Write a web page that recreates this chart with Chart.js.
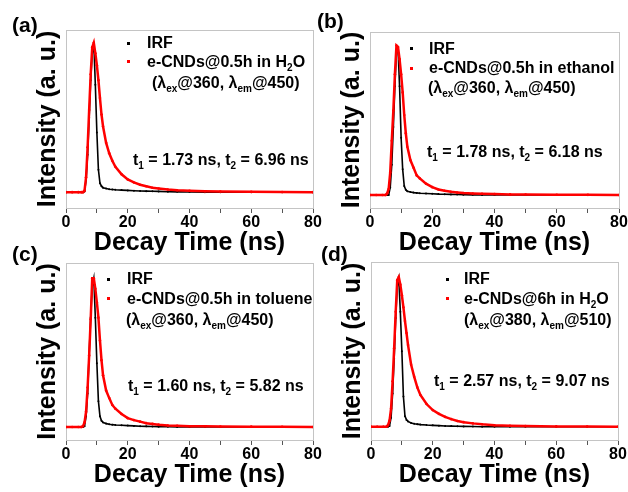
<!DOCTYPE html>
<html>
<head>
<meta charset="utf-8">
<script src="https://cdn.jsdelivr.net/npm/chart.js@4.4.0/dist/chart.umd.min.js"></script>
<style>
  html, body { margin:0; padding:0; background:#fff; }
  #wrap { position:relative; width:628px; height:492px; overflow:hidden; font-family:"Liberation Sans", Arial, sans-serif; font-weight:bold; color:#000; }
  canvas { position:absolute; left:0; top:0; }
  .t { position:absolute; font-size:16px; line-height:18px; white-space:nowrap; }
  .lab { position:absolute; font-size:21px; line-height:24px; white-space:nowrap; }
  .s { font-size:10px; position:relative; top:4px; line-height:0; }
  .dot { position:absolute; width:3px; height:3px; }
</style>
</head>
<body>
<div id="wrap">
  <canvas id="cA" width="628" height="492"></canvas>
  <canvas id="cB" width="628" height="492"></canvas>
  <canvas id="cC" width="628" height="492"></canvas>
  <canvas id="cD" width="628" height="492"></canvas>

  <div class="lab" style="left:12px;top:13px">(a)</div>
  <div class="lab" style="left:317px;top:9px">(b)</div>
  <div class="lab" style="left:12px;top:242px">(c)</div>
  <div class="lab" style="left:321px;top:242px">(d)</div>

  <!-- panel a legend -->
  <div class="dot" style="left:127px;top:42px;background:#000"></div>
  <div class="dot" style="left:127px;top:60px;background:#f00"></div>
  <div class="t" style="left:147px;top:34px">IRF</div>
  <div class="t" style="left:147px;top:53px">e-CNDs@0.5h in H<span class="s">2</span>O</div>
  <div class="t" style="left:152px;top:74px">(λ<span class="s">ex</span>@360, λ<span class="s">em</span>@450)</div>
  <div class="t" style="left:133px;top:151px">t<span class="s">1</span> = 1.73 ns, t<span class="s">2</span> = 6.96 ns</div>

  <!-- panel b legend -->
  <div class="dot" style="left:410px;top:47px;background:#000"></div>
  <div class="dot" style="left:410px;top:67px;background:#f00"></div>
  <div class="t" style="left:429px;top:40px">IRF</div>
  <div class="t" style="left:429px;top:59px">e-CNDs@0.5h in ethanol</div>
  <div class="t" style="left:428px;top:79px">(λ<span class="s">ex</span>@360, λ<span class="s">em</span>@450)</div>
  <div class="t" style="left:427px;top:143px">t<span class="s">1</span> = 1.78 ns, t<span class="s">2</span> = 6.18 ns</div>

  <!-- panel c legend -->
  <div class="dot" style="left:107px;top:278px;background:#000"></div>
  <div class="dot" style="left:107px;top:297px;background:#f00"></div>
  <div class="t" style="left:127px;top:270px">IRF</div>
  <div class="t" style="left:127px;top:290px">e-CNDs@0.5h in toluene</div>
  <div class="t" style="left:126px;top:311px">(λ<span class="s">ex</span>@360, λ<span class="s">em</span>@450)</div>
  <div class="t" style="left:128px;top:377px">t<span class="s">1</span> = 1.60 ns, t<span class="s">2</span> = 5.82 ns</div>

  <!-- panel d legend -->
  <div class="dot" style="left:446px;top:278px;background:#000"></div>
  <div class="dot" style="left:446px;top:297px;background:#f00"></div>
  <div class="t" style="left:464px;top:270px">IRF</div>
  <div class="t" style="left:464px;top:290px">e-CNDs@6h in H<span class="s">2</span>O</div>
  <div class="t" style="left:464px;top:311px">(λ<span class="s">ex</span>@380, λ<span class="s">em</span>@510)</div>
  <div class="t" style="left:434px;top:372px">t<span class="s">1</span> = 2.57 ns, t<span class="s">2</span> = 9.07 ns</div>
</div>
<script>
// ---- data (time in ns, normalized intensity) ----
const timeNs = [0, 2, 4, 5, 5.5, 6, 6.5, 7, 7.5, 8, 8.5, 9, 9.5, 10, 10.5, 11, 11.5, 12, 13, 14, 15, 16, 18, 20, 22, 24, 26, 28, 30, 33, 36, 40, 45, 50, 60, 70, 80];

const irfA   = [0, 0, 0, 0, 0, 0.005, 0.08, 0.25, 0.5, 0.75, 0.93, 1.0, 0.72, 0.4, 0.15, 0.06, 0.04, 0.03, 0.024, 0.02, 0.018, 0.016, 0.014, 0.012, 0.01, 0.008, 0.007, 0.006, 0.005, 0.003, 0.002, 0.001, 0, 0, 0, 0, 0];
const decayA = [0, 0, 0, 0, 0, 0.01, 0.1, 0.3, 0.55, 0.79, 0.97, 1.0, 0.93, 0.85, 0.75, 0.63, 0.52, 0.44, 0.33, 0.26, 0.21, 0.17, 0.12, 0.085, 0.065, 0.05, 0.04, 0.03, 0.025, 0.018, 0.013, 0.009, 0.006, 0.004, 0.002, 0.001, 0];

const irfB   = [0, 0, 0, 0, 0, 0, 0.05, 0.2, 0.45, 0.72, 0.95, 0.97, 0.72, 0.38, 0.17, 0.06, 0.035, 0.025, 0.02, 0.016, 0.014, 0.012, 0.01, 0.008, 0.006, 0.005, 0.004, 0.003, 0.002, 0.001, 0, 0, 0, 0, 0, 0, 0];
const decayB = [0, 0, 0, 0, 0.01, 0.04, 0.15, 0.36, 0.56, 0.8, 0.99, 0.98, 0.9, 0.8, 0.68, 0.53, 0.41, 0.32, 0.23, 0.18, 0.13, 0.11, 0.075, 0.052, 0.037, 0.028, 0.021, 0.017, 0.013, 0.01, 0.008, 0.006, 0.004, 0.003, 0.002, 0.001, 0];

const irfC   = [0, 0, 0, 0, 0, 0.005, 0.07, 0.22, 0.48, 0.72, 0.93, 0.98, 0.72, 0.42, 0.17, 0.07, 0.04, 0.03, 0.022, 0.018, 0.015, 0.013, 0.011, 0.009, 0.007, 0.005, 0.004, 0.003, 0.002, 0.001, 0, 0, 0, 0, 0, 0, 0];
const decayC = [0, 0, 0, 0, 0.005, 0.03, 0.1, 0.26, 0.47, 0.71, 0.98, 0.98, 0.91, 0.82, 0.72, 0.57, 0.44, 0.34, 0.24, 0.19, 0.145, 0.12, 0.085, 0.058, 0.045, 0.035, 0.025, 0.02, 0.015, 0.01, 0.008, 0.005, 0.004, 0.003, 0.002, 0.001, 0];

const irfD   = [0, 0, 0, 0, 0, 0.005, 0.06, 0.22, 0.45, 0.72, 0.93, 0.98, 0.76, 0.5, 0.2, 0.07, 0.045, 0.035, 0.025, 0.02, 0.017, 0.014, 0.011, 0.009, 0.007, 0.005, 0.004, 0.003, 0.002, 0.001, 0, 0, 0, 0, 0, 0, 0];
const decayD = [0, 0, 0, 0, 0.01, 0.04, 0.12, 0.3, 0.52, 0.76, 0.97, 0.99, 0.94, 0.87, 0.79, 0.7, 0.62, 0.54, 0.41, 0.33, 0.26, 0.21, 0.15, 0.11, 0.085, 0.065, 0.05, 0.038, 0.03, 0.022, 0.016, 0.01, 0.006, 0.004, 0.002, 0.001, 0];

const xTickLabels = [0, 20, 40, 60, 80];
const seriesNames = ['e-CNDs', 'IRF'];

// ---- drawing ----
const FONT = '"Liberation Sans", Arial, sans-serif';
const framePlugin = {
  id: 'frame',
  beforeDatasetsDraw(chart) {
    const a = chart.chartArea, ctx = chart.ctx;
    ctx.save();
    ctx.strokeStyle = '#c4c4c4';
    ctx.lineWidth = 1;
    ctx.strokeRect(a.left + 0.5, a.top + 0.5, a.right - a.left, a.bottom - a.top);
    ctx.restore();
  }
};

function pts(t, v) { return t.map((x, i) => ({ x: x, y: v[i] })); }

function makePanel(id, irf, decay, area, yMin, yMax) {
  const Y_W = 46, X_H = 50;
  new Chart(document.getElementById(id), {
    type: 'scatter',
    data: {
      datasets: [
        { label: seriesNames[0], data: pts(timeNs, decay), showLine: true, borderColor: '#ff0000', backgroundColor: '#ff0000', borderWidth: 2.5, pointRadius: 1.3, pointBorderWidth: 0, tension: 0 },
        { label: seriesNames[1], data: pts(timeNs, irf), showLine: true, borderColor: '#000000', backgroundColor: '#000000', borderWidth: 1.6, pointRadius: 1, pointBorderWidth: 0, tension: 0 }
      ]
    },
    options: {
      responsive: false,
      animation: false,
      devicePixelRatio: 1,
      layout: { padding: { left: area.left - Y_W, top: area.top, right: 628 - area.right, bottom: 492 - area.bottom - X_H } },
      plugins: { legend: { display: false }, tooltip: { enabled: false } },
      scales: {
        x: {
          type: 'linear', min: 0, max: 80,
          afterFit: s => { s.height = X_H; },
          border: { display: true, color: '#555', width: 1 },
          grid: { display: true, drawOnChartArea: false, drawTicks: true, tickLength: 5, color: '#555' },
          ticks: {
            stepSize: 10, autoSkip: false, maxRotation: 0, padding: 0,
            color: '#000', font: { family: FONT, size: 16, weight: 'bold' },
            callback: v => xTickLabels.includes(v) ? String(v) : ''
          },
          title: { display: true, text: 'Decay Time (ns)', color: '#000', padding: { top: 0, bottom: 0 }, font: { family: FONT, size: 25, weight: 'bold', lineHeight: 1.2 } }
        },
        y: {
          type: 'linear', min: yMin, max: yMax,
          afterFit: s => { s.width = Y_W; },
          border: { display: true, color: '#777', width: 1 },
          grid: { display: false },
          ticks: { display: false },
          title: { display: true, text: 'Intensity (a. u.)', color: '#000', padding: { top: 13, bottom: 0 }, font: { family: FONT, size: 25, weight: 'bold', lineHeight: 1.2 } }
        }
      }
    },
    plugins: [framePlugin]
  });
}

makePanel('cA', irfA, decayA, { left: 66, top: 30, right: 313, bottom: 208 }, -0.106, 1.086);
makePanel('cB', irfB, decayB, { left: 370, top: 32, right: 619, bottom: 208 }, -0.086, 1.08);
makePanel('cC', irfC, decayC, { left: 66, top: 263, right: 313, bottom: 440 }, -0.086, 1.08);
makePanel('cD', irfD, decayD, { left: 371, top: 262, right: 618, bottom: 440 }, -0.088, 1.09);
</script>
</body>
</html>
